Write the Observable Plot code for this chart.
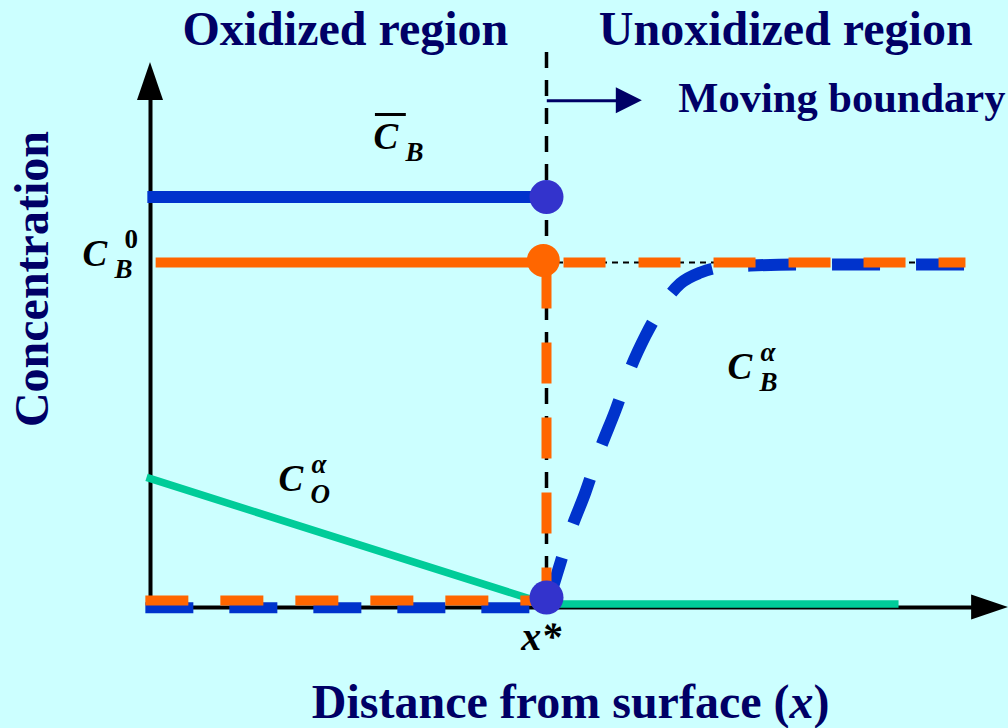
<!DOCTYPE html>
<html><head><meta charset="utf-8">
<script src="https://cdn.jsdelivr.net/npm/d3@7"></script>
<script src="https://cdn.jsdelivr.net/npm/@observablehq/plot@0.6"></script>
<style>
html,body{margin:0;padding:0;background:#ccffff;}
</style></head><body><div id="chart"></div>
<script>
// ---- Data (x: distance from surface, x* = 1; y: concentration, C_B^0 = 1) ----
// Oxide concentration of B (C̄_B), solid blue
const cBarBX = [-0.008, 1.0];
const cBarBY = [1.19, 1.19];
// C_B^0 level in oxidized region, solid orange
const cB0X = [0.013, 1.0];
const cB0Y = [1.0, 1.0];
// Step profile (orange dashed)
const stepLowX = [-0.013, 1.0];
const stepLowY = [0.02, 0.02];
const stepRiseX = [1.0, 1.0];
const stepRiseY = [-0.003, 1.0];
const stepHighX = [1.043, 2.058];
const stepHighY = [1.0, 1.0];
// C_B^alpha profile (blue dashed)
const cBaLowX = [-0.013, 1.0];
const cBaLowY = [-0.001, -0.001];
const cBaX = [1.0, 1.023, 1.061, 1.098, 1.136, 1.174, 1.212, 1.25, 1.275, 1.301, 1.338, 1.389, 1.439, 1.515, 1.641, 2.058];
const cBaY = [0.0, 0.084, 0.223, 0.333, 0.461, 0.571, 0.693, 0.788, 0.841, 0.89, 0.939, 0.971, 0.986, 0.991, 0.994, 0.994];
// C_O^alpha profile (green)
const cOaX = [-0.01, 1.0, 1.889];
const cOaY = [0.377, 0.01, 0.01];
// Interface markers
const dotBarX = [1.0], dotBarY = [1.19];
const dotB0X = [0.992], dotB0Y = [1.006];
const dotLowX = [1.0], dotLowY = [0.029];
// Axes / boundary extents
const boundaryX = 1.0, boundaryTop = 1.609, boundaryBottom = 0.03;
const xAxisStart = -0.005, xAxisEnd = 2.167;
const yAxisStart = -0.003, yAxisEnd = 1.58;
const moveArrowX1 = 1.002, moveArrowX2 = 1.242, moveArrowY = 1.469;
// Text annotations
const regionTitles = ["Oxidized region", "Unoxidized region"];
const regionTitleX = [0.492, 1.604];
const regionTitleY = [1.675, 1.675];
const symX = [0.563, -0.172, 1.457, 0.323];
const symY = [1.364, 1.025, 0.697, 0.372];
const symSub = ["B", "B", "B", "O"];
const symSup = ["", "0", "\u03b1", "\u03b1"];
const overbarX = [0.568, 0.646], overbarY = 1.429;

const navy = "#000066", blue = "#0033cc", dotBlue = "#3333cc", orange = "#ff6600", green = "#00cc99";
const serif = "'Liberation Serif','Times New Roman',serif";

function lineOf(X, Y, opts) {
  return Plot.line({length: X.length}, {x: X, y: Y, strokeLinecap: "butt", strokeLinejoin: "round", ...opts});
}
function head(tipX, tipY, ux, uy, len, hw, color) {
  return (index, scales) => {
    const px = scales.x(tipX), py = scales.y(tipY);
    const bx = px - ux * len, by = py - uy * len;
    const pts = [[px, py], [bx - uy * hw, by + ux * hw], [bx + uy * hw, by - ux * hw]];
    return d3.create("svg:path").attr("d", "M" + pts.map(p => p.join(",")).join("L") + "Z").attr("fill", color).node();
  };
}

const symIdx = d3.range(symX.length);
const mathFont = {fontWeight: "bold", fill: "black", textAnchor: "start"};
const chart = Plot.plot({
  width: 1008, height: 728, margin: 0,
  style: {background: "#ccffff", fontFamily: serif, overflow: "visible"},
  x: {domain: [0, 1], range: [150, 546], axis: null},
  y: {domain: [0, 1], range: [607, 262], axis: null},
  marks: [
    // guides
    Plot.ruleX([boundaryX], {x: d => d, y1: boundaryTop, y2: boundaryBottom, stroke: "black", strokeWidth: 3.5, strokeDasharray: "16,12"}),
    Plot.ruleY([1], {y: d => d, x1: 1.0, x2: 2.058, stroke: "black", strokeWidth: 2, strokeDasharray: "6,5"}),
    // axes
    Plot.ruleX([0], {x: d => d, y1: yAxisStart, y2: yAxisEnd - 0.1, stroke: "black", strokeWidth: 4}),
    Plot.ruleY([0], {y: d => d, x1: xAxisStart, x2: xAxisEnd - 0.08, stroke: "black", strokeWidth: 4}),
    head(0, yAxisEnd, 0, -1, 38, 13, "black"),
    head(xAxisEnd, 0, 1, 0, 37, 12.5, "black"),
    // curves
    lineOf(cOaX, cOaY, {stroke: green, strokeWidth: 7.5}),
    lineOf(cBarBX, cBarBY, {stroke: blue, strokeWidth: 12}),
    lineOf(cBaLowX, cBaLowY, {stroke: blue, strokeWidth: 11, strokeDasharray: "48,36"}),
    lineOf(cBaX, cBaY, {stroke: blue, strokeWidth: 12, strokeDasharray: "48,36", strokeDashoffset: 80, curve: "monotone-x"}),
    lineOf(cB0X, cB0Y, {stroke: orange, strokeWidth: 10}),
    lineOf(stepLowX, stepLowY, {stroke: orange, strokeWidth: 10, strokeDasharray: "43,32"}),
    lineOf(stepRiseX, stepRiseY, {stroke: orange, strokeWidth: 10, strokeDasharray: "41,34"}),
    lineOf(stepHighX, stepHighY, {stroke: orange, strokeWidth: 10, strokeDasharray: "42,33"}),
    // markers
    Plot.dot({length: 1}, {x: dotBarX, y: dotBarY, r: 17, fill: dotBlue}),
    Plot.dot({length: 1}, {x: dotB0X, y: dotB0Y, r: 16.5, fill: orange}),
    Plot.dot({length: 1}, {x: dotLowX, y: dotLowY, r: 17, fill: dotBlue}),
    // moving boundary arrow
    Plot.ruleY([moveArrowY], {y: d => d, x1: moveArrowX1, x2: moveArrowX2 - 0.05, stroke: navy, strokeWidth: 3}),
    head(moveArrowX2, moveArrowY, 1, 0, 26, 13, navy),
    // titles
    Plot.text(regionTitles, {text: d => d, x: regionTitleX, y: regionTitleY, fontSize: 48, fontWeight: "bold", fill: navy}),
    Plot.text(["Moving boundary"], {text: d => d, x: [1.333], y: [1.4757], textAnchor: "start", fontSize: 42.5, fontWeight: "bold", fill: navy}),
    Plot.text(["Concentration"], {text: d => d, x: [-0.298], y: [0.952], rotate: -90, fontSize: 48, fontWeight: "bold", fill: navy}),
    Plot.text(["Distance from surface (x)"], {text: d => d, x: [1.061], y: [-0.275], fontSize: 48, fontWeight: "bold", fill: navy}),
    // math labels
    Plot.text(symIdx, {text: () => "C", x: i => symX[i], y: i => symY[i], fontSize: 37, fontStyle: "italic", ...mathFont}),
    Plot.ruleY([overbarY], {y: d => d, x1: overbarX[0], x2: overbarX[1], stroke: "black", strokeWidth: 3}),
    Plot.text(symIdx, {text: i => symSub[i], x: i => symX[i], y: i => symY[i], dx: 32, dy: 15, fontSize: 27, fontStyle: "italic", ...mathFont}),
    Plot.text(symIdx.filter(i => symSup[i] && symSup[i] !== "0"), {text: i => symSup[i], x: i => symX[i], y: i => symY[i], dx: 33, dy: -15, fontSize: 27, fontStyle: "italic", ...mathFont}),
    Plot.text(symIdx.filter(i => symSup[i] === "0"), {text: i => symSup[i], x: i => symX[i], y: i => symY[i], dx: 42, dy: -15, fontSize: 27, ...mathFont}),
    Plot.text(["x*"], {text: d => d, x: [0.987], y: [-0.087], fontSize: 40, fontWeight: "bold", fontStyle: "italic", fill: "black"})
  ]
});
document.getElementById("chart").append(chart);

// italic x in axis label
chart.querySelectorAll("text").forEach(t => {
  if (t.textContent === "Distance from surface (x)") {
    t.textContent = "";
    t.append(document.createTextNode("Distance from surface ("));
    const ts = document.createElementNS("http://www.w3.org/2000/svg", "tspan");
    ts.setAttribute("font-style", "italic");
    ts.textContent = "x";
    t.append(ts);
    t.append(document.createTextNode(")"));
  }
});
</script></body></html>
